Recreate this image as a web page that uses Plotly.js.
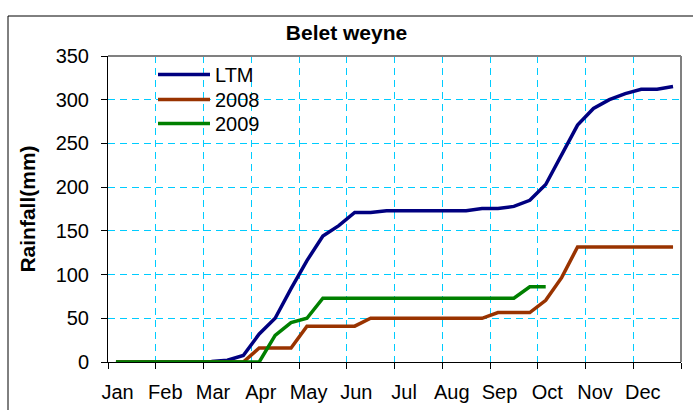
<!DOCTYPE html>
<html><head><meta charset="utf-8">
<script src="https://cdn.plot.ly/plotly-3.0.1.min.js"></script>
<style>html,body{margin:0;padding:0;background:#fff}#chart{width:693px;height:410px}</style>
</head><body><div id="chart"></div>
<script>
const months = ['Jan','Feb','Mar','Apr','May','Jun','Jul','Aug','Sep','Oct','Nov','Dec'];
// dekad index 0..35 (3 dekads per month)
const ltm = [0,0,0,0,0,0,0.5,2,7.5,32,50,84,116,144,156,171,171,173,173,173,173,173,173,175.5,175.5,178,185,203,238,271,290,300,307,312,312,315];
const y2008 = [0,0,0,0,0,0,0,0,0,16,16,16,41,41,41,41,50,50,50,50,50,50,50,50,56.5,56.5,56.5,70.5,96.5,131.5,131.5,131.5,131.5,131.5,131.5,131.5];
const y2009 = [0,0,0,0,0,0,0,0,0,0,30.5,45,50,73,73,73,73,73,73,73,73,73,73,73,73,73,86,86];
const seriesNames = ['LTM','2008','2009'];
const colors = ['#000080','#993300','#008000'];

const xs = arr => arr.map((_, i) => i);
const monthStarts = months.map((_, m) => m * 3 + 0.1);

const L = 108, R = 681, T = 56, B = 362, W = 693, H = 410;
const px2x = p => (p - L) / (R - L);
const px2y = p => (B - p) / (B - T);
const legendIds = ['legend', 'legend2', 'legend3'];
const legendTops = [55, 80, 104];

const data = [ltm, y2008, y2009].map((arr, k) => ({
  x: xs(arr), y: arr, type: 'scatter', mode: 'lines', name: seriesNames[k],
  legend: legendIds[k],
  line: {color: colors[k], width: 3.5}
}));

const grid = '#00ccff';
const layout = {
  width: W, height: H,
  margin: {l: L, r: W - R, t: T, b: H - B},
  paper_bgcolor: '#fff', plot_bgcolor: '#fff',
  font: {family: 'Liberation Sans, Arial, sans-serif', color: '#000', size: 20},
  title: {text: '<b>Belet weyne</b>', font: {size: 21}, x: 0.5, xref: 'container', y: 1 - 33 / H, yref: 'container', yanchor: 'middle'},
  showlegend: true,
  xaxis: {
    range: [-0.5, 35.5], tickmode: 'array', tickvals: monthStarts, ticktext: months,
    ticks: '', showgrid: false, zeroline: false, showline: true, linecolor: '#000', linewidth: 1,
    ticklabelstandoff: 12,
    minor: {tickmode: 'linear', tick0: -0.5, dtick: 3, ticks: 'outside', ticklen: 6, tickcolor: '#000',
            showgrid: true, gridcolor: grid, griddash: '7px,5px', gridwidth: 1}
  },
  yaxis: {
    range: [0, 350], dtick: 50, ticks: 'outside', ticklen: 6, tickcolor: '#000',
    showgrid: true, gridcolor: grid, griddash: '7px,5px', gridwidth: 1,
    zeroline: false, showline: true, linecolor: '#000', linewidth: 1,
    ticklabelstandoff: 8,
    title: {text: '<b>Rainfall(mm)</b>', font: {size: 21}, standoff: 14}
  },
  shapes: [
    {type: 'line', xref: 'paper', yref: 'paper', x0: 0, x1: 1, y0: 1, y1: 1, line: {color: '#808080', width: 2}},
    {type: 'line', xref: 'paper', yref: 'paper', x0: 1, x1: 1, y0: 0, y1: 1, line: {color: '#808080', width: 2}},
    {type: 'rect', xref: 'paper', yref: 'paper', x0: px2x(8), x1: px2x(700), y0: px2y(16), y1: px2y(420), line: {color: '#000', width: 1}, layer: 'below'}
  ]
};
legendIds.forEach((id, k) => {
  layout[id] = {x: px2x(153), y: px2y(legendTops[k]), xanchor: 'left', yanchor: 'top', bgcolor: 'rgba(0,0,0,0)', font: {size: 20}, itemwidth: 52};
});
Plotly.newPlot('chart', data, layout, {displayModeBar: false, staticPlot: true});
</script></body></html>
